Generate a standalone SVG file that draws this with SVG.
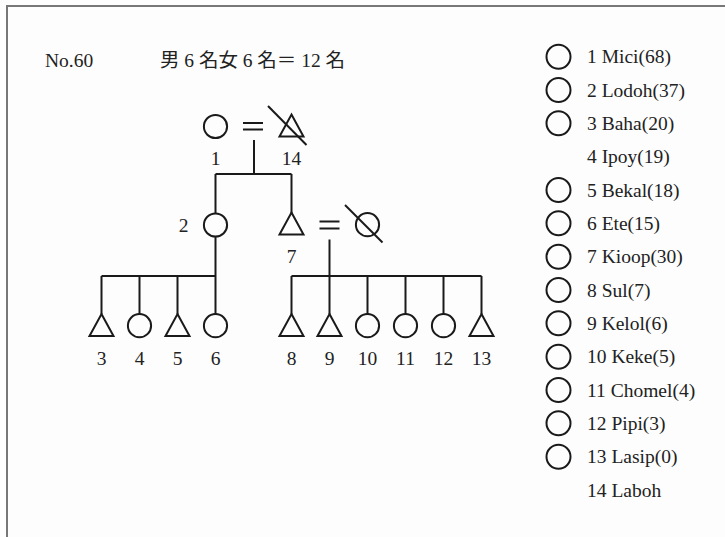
<svg xmlns="http://www.w3.org/2000/svg" width="725" height="537" viewBox="0 0 725 537">
<style>
.t{font-family:"Liberation Serif","Noto Sans CJK JP",serif;font-size:19.5px;fill:#222}
.c{text-anchor:middle}
.s{fill:none;stroke:#1a1a1a;stroke-width:2}
.ln{stroke:#1a1a1a;stroke-width:2;fill:none}
</style>
<defs>
<circle id="f" r="11.6" class="s"/>
<path id="m" d="M0,-11.5 L12,10.5 L-12,10.5 Z" class="s" stroke-linejoin="miter"/>
<circle id="lc" r="12" class="s"/>
</defs>
<rect width="725" height="537" fill="#fdfdfd"/>
<path d="M7,537 V6 H725" fill="none" stroke="#777" stroke-width="2"/>
<g id="header">
<text class="t" x="45" y="67">No.60</text>
<text class="t" x="160" y="67" textLength="185" lengthAdjust="spacing">男 6 名女 6 名＝ 12 名</text>
</g>
<g id="connectors" class="ln">
<path d="M243,123 H263 M243,129.5 H263"/>
<path d="M254,140 V174 M215.5,174 H291.5 M215.5,174 V213.5 M291.5,174 V213"/>
<path d="M319.5,221.5 H339.5 M319.5,228.5 H339.5"/>
<path d="M329.5,239.5 V276"/>
<path d="M215.5,236.5 V314 M101.5,276 H215.5 M101.5,276 V314 M139.5,276 V314 M177.5,276 V314"/>
<path d="M291.5,276 H481.5 M291.5,276 V314 M367.5,276 V314 M405.5,276 V314 M443.5,276 V314 M481.5,276 V314 M329.5,276 V314"/>
</g>
<g id="n1"><use href="#f" x="215.5" y="126.5"/><text class="t c" x="215.5" y="165">1</text></g>
<g id="n14"><use href="#m" x="291.5" y="126"/><line class="ln" x1="268" y1="106" x2="306.5" y2="145"/><text class="t c" x="291.5" y="165">14</text></g>
<g id="n2"><use href="#f" x="215.5" y="225"/><text class="t c" x="183.5" y="232">2</text></g>
<g id="n7"><use href="#m" x="291.5" y="224"/><text class="t c" x="291.5" y="263">7</text></g>
<g id="n7w"><use href="#f" x="367.5" y="224.7"/><line class="ln" x1="345" y1="205" x2="382.5" y2="242.5"/></g>
<g id="n3"><use href="#m" x="101.5" y="325.5"/><text class="t c" x="101.5" y="365">3</text></g>
<g id="n4"><use href="#f" x="139.5" y="325.7"/><text class="t c" x="139.5" y="365">4</text></g>
<g id="n5"><use href="#m" x="177.5" y="325.5"/><text class="t c" x="177.5" y="365">5</text></g>
<g id="n6"><use href="#f" x="215.5" y="325.7"/><text class="t c" x="215.5" y="365">6</text></g>
<g id="n8"><use href="#m" x="291.5" y="325.5"/><text class="t c" x="291.5" y="365">8</text></g>
<g id="n9"><use href="#m" x="329.5" y="325.5"/><text class="t c" x="329.5" y="365">9</text></g>
<g id="n10"><use href="#f" x="367.5" y="325.7"/><text class="t c" x="367.5" y="365">10</text></g>
<g id="n11"><use href="#f" x="405.5" y="325.7"/><text class="t c" x="405.5" y="365">11</text></g>
<g id="n12"><use href="#f" x="443.5" y="325.7"/><text class="t c" x="443.5" y="365">12</text></g>
<g id="n13"><use href="#m" x="481.5" y="325.5"/><text class="t c" x="481.5" y="365">13</text></g>
<g id="legend">
<use href="#lc" x="558.5" y="56.7"/><text class="t" x="587" y="63.3">1 Mici(68)</text>
<use href="#lc" x="558.5" y="90"/><text class="t" x="587" y="96.6">2 Lodoh(37)</text>
<use href="#lc" x="558.5" y="123.3"/><text class="t" x="587" y="129.9">3 Baha(20)</text>
<text class="t" x="587" y="163.3">4 Ipoy(19)</text>
<use href="#lc" x="558.5" y="190"/><text class="t" x="587" y="196.6">5 Bekal(18)</text>
<use href="#lc" x="558.5" y="223.3"/><text class="t" x="587" y="229.9">6 Ete(15)</text>
<use href="#lc" x="558.5" y="256.7"/><text class="t" x="587" y="263.3">7 Kioop(30)</text>
<use href="#lc" x="558.5" y="290"/><text class="t" x="587" y="296.6">8 Sul(7)</text>
<use href="#lc" x="558.5" y="323.3"/><text class="t" x="587" y="329.9">9 Kelol(6)</text>
<use href="#lc" x="558.5" y="356.7"/><text class="t" x="587" y="363.3">10 Keke(5)</text>
<use href="#lc" x="558.5" y="390"/><text class="t" x="587" y="396.6">11 Chomel(4)</text>
<use href="#lc" x="558.5" y="423.3"/><text class="t" x="587" y="429.9">12 Pipi(3)</text>
<use href="#lc" x="558.5" y="456.7"/><text class="t" x="587" y="463.3">13 Lasip(0)</text>
<text class="t" x="587" y="496.6">14 Laboh</text>
</g>
</svg>
